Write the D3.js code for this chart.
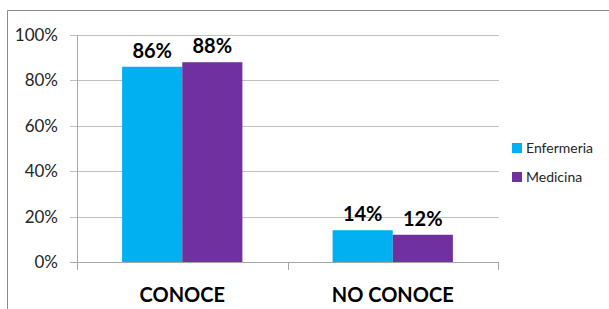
<!DOCTYPE html>
<html>
<head>
<meta charset="utf-8">
<script src="https://cdn.jsdelivr.net/npm/d3@7"></script>
<style>
  body { margin: 0; background: #fff; }
  svg text { font-family: Lato, "Open Sans", sans-serif; }
</style>
</head>
<body>
<svg id="chart" width="609" height="309"></svg>
<script>
// datos del gráfico
const categories = ["CONOCE", "NO CONOCE"];
const seriesNames = ["Enfermeria", "Medicina"];
const enfermeria = [0.86, 0.14];
const medicina = [0.88, 0.12];
const yTicks = [0, 0.2, 0.4, 0.6, 0.8, 1.0];
const colors = ["#00B0F0", "#7030A0"];

const svg = d3.select("#chart");

// marco exterior (solo arriba e izquierda visibles)
svg.append("path")
    .attr("d", "M7.5,309 V10.5 H609")
    .attr("fill", "none")
    .attr("stroke", "#8c8c8c")
    .attr("stroke-width", 1);

const x0 = d3.scaleBand().domain(categories).range([77, 498]);
const x1 = d3.scaleBand().domain(seriesNames).range([0, x0.bandwidth()]).paddingOuter(0.75).paddingInner(0);
const y = d3.scaleLinear().domain([0, 1]).range([262, 35]);

// líneas de cuadrícula
svg.append("g")
    .selectAll("line")
    .data(yTicks.slice(1))
    .enter()
    .append("line")
    .attr("x1", 70)
    .attr("x2", 499)
    .attr("y1", d => Math.round(y(d)) + 0.5)
    .attr("y2", d => Math.round(y(d)) + 0.5)
    .attr("stroke", "#bfbfbf")
    .attr("stroke-width", 1.2);

// eje y
svg.append("line")
    .attr("x1", 77.5).attr("x2", 77.5)
    .attr("y1", y(1)).attr("y2", y(0))
    .attr("stroke", "#a6a6a6");

svg.append("g")
    .selectAll("text")
    .data(yTicks)
    .enter()
    .append("text")
    .attr("x", 58)
    .attr("y", d => y(d) + 6)
    .attr("text-anchor", "end")
    .attr("font-size", 17)
    .attr("fill", "#262626")
    .text(d => d3.format(".0%")(d));

// barras
const data = categories.map((c, i) => ({cat: c, vals: [enfermeria[i], medicina[i]]}));
const groups = svg.append("g")
    .selectAll("g")
    .data(data)
    .enter()
    .append("g")
    .attr("transform", d => `translate(${x0(d.cat)},0)`);

groups.selectAll("rect")
    .data(d => d.vals.map((v, j) => ({name: seriesNames[j], v: v, j: j})))
    .enter()
    .append("rect")
    .attr("x", d => x1(d.name))
    .attr("width", x1.bandwidth())
    .attr("y", d => y(d.v))
    .attr("height", d => y(0) - y(d.v))
    .attr("fill", d => colors[d.j]);

groups.selectAll("text.lbl")
    .data(d => d.vals.map((v, j) => ({name: seriesNames[j], v: v})))
    .enter()
    .append("text")
    .attr("class", "lbl")
    .attr("x", d => x1(d.name) + x1.bandwidth() / 2)
    .attr("y", d => y(d.v) - 9)
    .attr("text-anchor", "middle")
    .attr("font-size", 20)
    .attr("font-weight", "bold")
    .attr("fill", "#000")
    .text(d => Math.round(d.v * 100) + "%");

// eje x
svg.append("line")
    .attr("x1", 70).attr("x2", 498)
    .attr("y1", y(0) + 0.5).attr("y2", y(0) + 0.5)
    .attr("stroke", "#a6a6a6");

const xTicks = [77, x0("NO CONOCE"), 498];
svg.append("g")
    .selectAll("line")
    .data(xTicks)
    .enter()
    .append("line")
    .attr("x1", d => Math.round(d) + 0.5)
    .attr("x2", d => Math.round(d) + 0.5)
    .attr("y1", y(0))
    .attr("y2", y(0) + 8)
    .attr("stroke", "#a6a6a6");

svg.append("g")
    .selectAll("text")
    .data(categories)
    .enter()
    .append("text")
    .attr("x", d => x0(d) + x0.bandwidth() / 2)
    .attr("y", 302)
    .attr("text-anchor", "middle")
    .attr("font-size", 20)
    .attr("font-weight", "bold")
    .attr("fill", "#000")
    .text(d => d);

// leyenda
const legend = svg.append("g")
    .selectAll("g")
    .data(seriesNames)
    .enter()
    .append("g")
    .attr("transform", (d, i) => `translate(512,${143 + i * 29})`);

legend.append("rect")
    .attr("width", 10).attr("height", 10)
    .attr("fill", (d, i) => colors[i]);

legend.append("text")
    .attr("x", 14)
    .attr("y", 10)
    .attr("font-size", 14)
    .attr("fill", "#262626")
    .text(d => d);
</script>
</body>
</html>
